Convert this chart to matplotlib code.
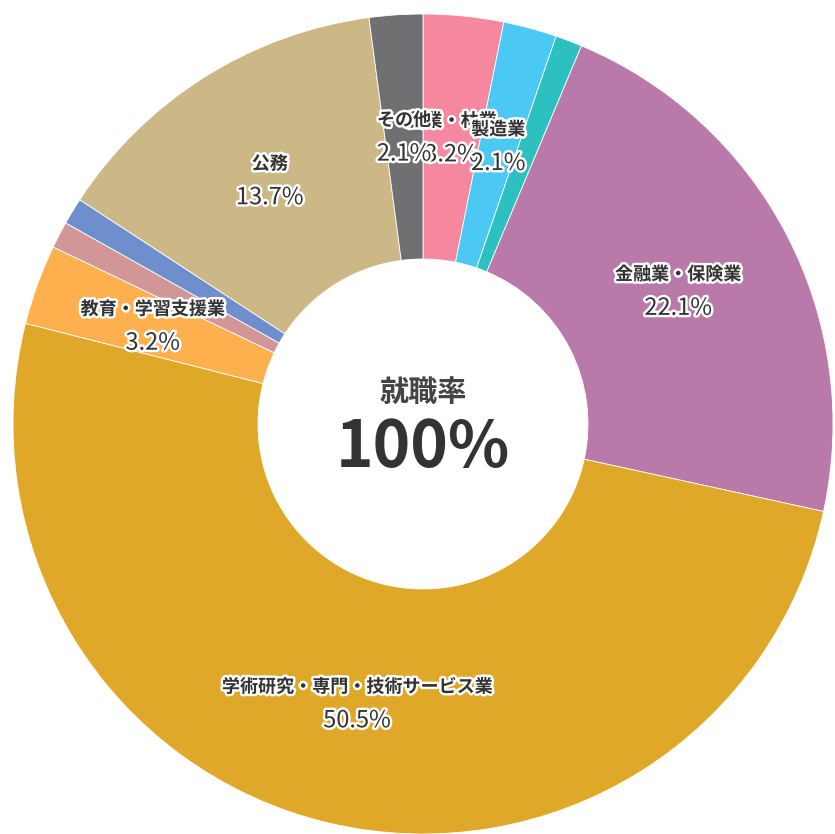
import numpy as np
import matplotlib.pyplot as plt
import matplotlib.patheffects as pe

plt.rcParams['font.family'] = ['Noto Sans CJK JP', 'DejaVu Sans']

# 業種別の就職者数 (12時の位置から時計回り)
categories = ['農業・林業', '製造業', '情報通信業', '金融業・保険業',
              '学術研究・専門・技術サービス業', '教育・学習支援業',
              '医療・福祉', 'サービス業', '公務', 'その他']
counts = [3, 2, 1, 21, 48, 3, 1, 1, 13, 2]
colors = ['#F5889F', '#4BC9F4', '#2CC0C0', '#B97AAA', '#E0A828',
          '#FEB04F', '#D29696', '#6E8ECD', '#CBB886', '#707073']

total = sum(counts)
pcts = [c / total * 100 for c in counts]

W, H = 835, 834
cx, cy, R = 423, 424, 410   # 円の中心と半径 (ピクセル)
inner = 165

fig = plt.figure(figsize=(W / 100, H / 100), dpi=100)
ax = fig.add_axes([0, 0, 1, 1])

wedges, _ = ax.pie(counts, colors=colors, startangle=90, counterclock=False,
                   radius=1.0, wedgeprops=dict(width=1 - inner / R,
                                               edgecolor='white', linewidth=0.6))
# pie() が軸範囲を上書きするので後から設定
ax.set_aspect('auto')
ax.set_xlim(-cx / R, (W - cx) / R)
ax.set_ylim(-(H - cy) / R, cy / R)
ax.axis('off')

halo = [pe.withStroke(linewidth=3.5, foreground='white')]
rl = (1 + inner / R) / 2
for w, name, p in zip(wedges, categories, pcts):
    if p < 2:
        continue
    ang = np.deg2rad((w.theta1 + w.theta2) / 2)
    x, y = rl * np.cos(ang), rl * np.sin(ang)
    ax.text(x, y + 17 / R, name, ha='center', va='center', fontsize=13,
            fontweight='bold', color='#333333', path_effects=halo)
    ax.text(x, y - 17 / R, f'{p:.1f}%', ha='center', va='center', fontsize=17,
            color='#333333', path_effects=halo)

ax.text(0, 32 / R, '就職率', ha='center', va='center', fontsize=21,
        fontweight='bold', color='#444444')
ax.text(0, -24 / R, '100%', ha='center', va='center', fontsize=46,
        fontweight='bold', color='#333333')

fig.savefig('out.png', dpi=100)
